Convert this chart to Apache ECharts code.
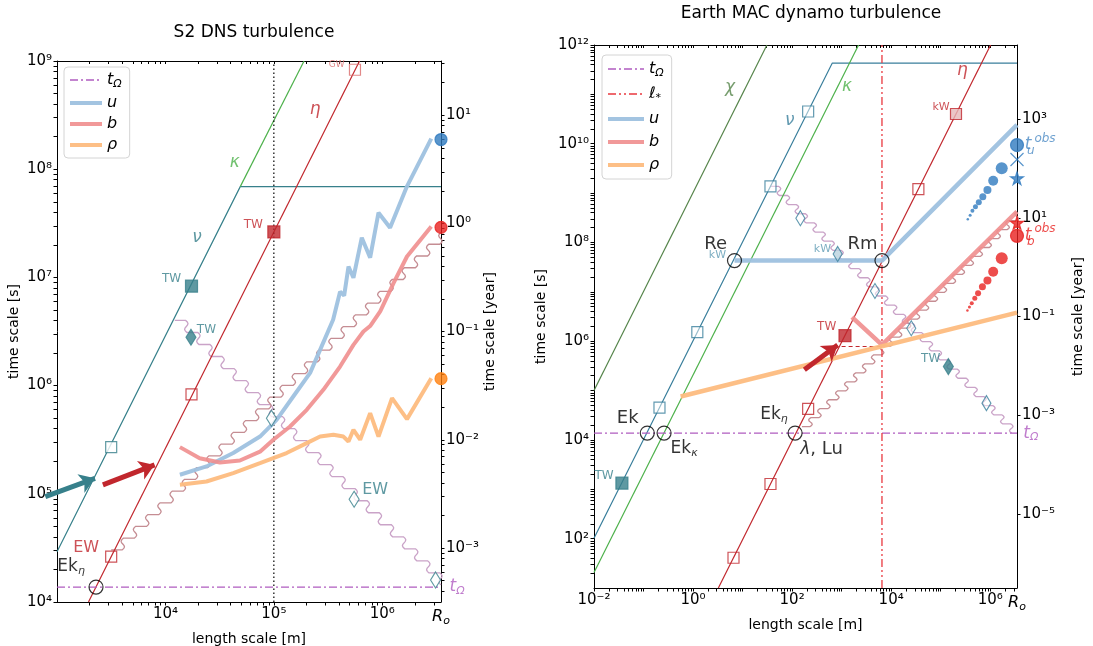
<!DOCTYPE html>
<html>
<head>
<meta charset="utf-8">
<script src="https://cdn.jsdelivr.net/npm/echarts@6/dist/echarts.min.js"></script>
<style>
  html, body { margin: 0; padding: 0; background: #fff; }
  #chart { width: 1093px; height: 646px; }
</style>
</head>
<body>
<div id="chart"></div>
<script>
var R_O = 3.48e6;        // core radius [m]
var T_OMEGA = 1.375e4;   // rotation time [s]
var YEAR = 3.156e7;

// ---------- tick values ----------
var dnsXTicks = [1e4, 1e5, 1e6];
var dnsYTicks = [1e4, 1e5, 1e6, 1e7, 1e8, 1e9];
var dnsYearTicks = [1e-3, 1e-2, 1e-1, 1, 10];
var earthXTicks = [1e-2, 1, 1e2, 1e4, 1e6];
var earthYTicks = [1e2, 1e4, 1e6, 1e8, 1e10, 1e12];
var earthYearTicks = [1e-5, 1e-3, 1e-1, 10, 1e3];

// ---------- S2 DNS turbulence ----------
var dnsNu = [[1e3, 2.92e4], [4.9e4, 6.9e7], [R_O, 6.9e7]];
var dnsKappa = [[4.9e4, 6.9e7], [1.9e5, 1e9]];
var dnsEta = [[1.95e3, 1e4], [6.17e5, 1e9]];
var dnsTOmega = [[1e3, T_OMEGA], [R_O, T_OMEGA]];
var dnsLstar = [[1e5, 1e4], [1e5, 1e9]];
var dnsU = [[1.36e4, 1.5e5], [2.39e4, 1.79e5], [4.22e4, 2.38e5], [7.45e4, 3.38e5], [1.06e5, 4.83e5],
  [1.51e5, 7.93e5], [2.16e5, 1.31e6], [2.67e5, 2.14e6], [3.52e5, 4.06e6], [4.08e5, 7.38e6],
  [4.45e5, 6.78e6], [4.88e5, 1.26e7], [5.42e5, 9.93e6], [6.47e5, 2.33e7], [7.73e5, 1.52e7],
  [9.23e5, 3.96e7], [1.18e6, 2.88e7], [1.69e6, 6.95e7], [2.83e6, 1.92e8]];
var dnsB = [[1.36e4, 2.7e5], [2.07e4, 2.13e5], [3.18e4, 1.95e5], [4.86e4, 2.03e5], [7.45e4, 2.45e5],
  [9.89e4, 3.16e5], [1.41e5, 4.19e5], [2.01e5, 5.97e5], [2.86e5, 9.14e5], [4.08e5, 1.5e6],
  [5.42e5, 2.38e6], [6.7e5, 3.16e6], [7.73e5, 3.55e6], [9.57e5, 4.85e6], [1.27e6, 8.87e6],
  [1.69e6, 1.56e7], [2.83e6, 2.96e7]];
var dnsRho = [[1.36e4, 1.21e5], [2.39e4, 1.3e5], [4.22e4, 1.55e5], [7.45e4, 1.92e5], [1.31e5, 2.38e5],
  [2.01e5, 2.94e5], [2.67e5, 3.38e5], [3.54e5, 3.51e5], [4.38e5, 3.38e5], [4.88e5, 3.04e5],
  [5.42e5, 3.9e5], [6.25e5, 3.16e5], [7.73e5, 5.57e5], [9.23e5, 3.38e5], [1.23e6, 7.66e5],
  [1.69e6, 4.9e5], [2.83e6, 1.17e6]];
var dnsNuOpen = [[3.16e3, 2.7e5]];
var dnsNuTW = [[1.74e4, 8.3e6]];
var dnsEtaOpen = [[3.16e3, 2.63e4], [1.74e4, 8.3e5]];
var dnsEtaGW = [[5.6e5, 8.3e8]];
var dnsEtaTW = [[1e5, 2.63e7]];
var dnsCircles = [[2.29e3, T_OMEGA]];
var dnsDiamondTW = [[1.72e4, 2.8e6]];
var dnsDiamonds = [[9.5e4, 5.0e5], [5.5e5, 8.9e4], [3.1e6, 1.6e4]];
var dnsEndU = [[R_O, 1.88e8]];
var dnsEndB = [[R_O, 2.9e7]];
var dnsEndRho = [[R_O, 1.16e6]];
var dnsStairDown = [[1.22e4, 4.0e6, R_O, 1.44e4]];
var dnsStairUp = [[3.16e3, 3.03e4, R_O, 2.6e7]];
var dnsArrowNu = [[7.8e2, 9.4e4], [2.24e3, 1.39e5]];
var dnsArrowEta = [[2.65e3, 1.21e5], [7.94e3, 1.85e5]];

// ---------- Earth MAC dynamo turbulence ----------
var earthChi = [[0.01, 1.0e5], [31, 1e12]];
var earthNu = [[0.01, 102], [649, 4.3e11], [R_O, 4.3e11]];
var earthKappa = [[0.01, 20.7], [2.2e3, 1e12]];
var earthEta = [[3.24, 10], [1.02e6, 1e12]];
var earthTOmega = [[0.01, T_OMEGA], [R_O, T_OMEGA]];
var earthLstar = [[6.53e3, 10], [6.53e3, 1e12]];
var earthU = [[6.87, 4.3e7], [6.53e3, 4.3e7], [R_O, 2.4e10]];
var earthB = [[1.62e3, 3.06e6], [6.53e3, 8.4e5], [R_O, 4.2e8]];
var earthRho = [[0.562, 7.57e4], [R_O, 3.8e6]];
var earthDash = [[1.0e3, 7.8e5], [6.53e3, 7.8e5]];
var earthNuOpen = [[0.21, 4.5e4], [1.22, 1.52e6], [36.6, 1.37e9], [211, 4.5e10]];
var earthNuTW = [[0.0366, 1.33e3]];
var earthEtaOpen = [[6.56, 41], [36.6, 1.28e3], [211, 4.24e4], [3.55e4, 1.2e9]];
var earthEtaKW = [[2.04e5, 4.0e10]];
var earthEtaTW = [[1.17e3, 1.29e6]];
var earthCircles = [[6.87, 4.3e7], [6.53e3, 4.3e7], [0.119, T_OMEGA], [0.26, T_OMEGA], [115, T_OMEGA]];
var earthDiamonds = [[147, 3.1e8], [4.71e3, 1.04e7], [2.55e4, 1.83e6], [8.4e5, 5.56e4]];
var earthDiamondKW = [[832, 5.85e7]];
var earthDiamondTW = [[1.43e5, 3.06e5]];
var earthStairDown = [[36.6, 1.37e9, 2.72e6, T_OMEGA]];
var earthStairUp = [[158, 1.86e4, R_O, 4.2e8]];
var earthArrow = [[177, 2.63e5], [832, 8.4e5]];
var obsU = [[1.71e6, 3.18e9], [1.15e6, 1.78e9], [8.8e5, 1.16e9], [7.1e5, 8.45e8], [5.89e5, 6.5e8],
  [5.04e5, 5.3e8], [4.38e5, 4.4e8], [3.94e5, 3.56e8], [3.53e5, 2.95e8]];
var obsB = [[1.71e6, 4.79e7], [1.15e6, 2.56e7], [8.8e5, 1.69e7], [6.97e5, 1.27e7], [5.7e5, 9.4e6],
  [4.89e5, 7.4e6], [4.25e5, 5.9e6], [3.81e5, 4.9e6], [3.47e5, 4.16e6]];
var obsDotSizes = [12, 10, 8, 7, 6, 5, 4, 3, 2.5];
var obsUEnd = [[R_O, 9.4e9]];
var obsUCross = [[R_O, 4.8e9]];
var obsUStar = [[R_O, 2.0e9]];
var obsBEnd = [[R_O, 1.36e8]];
var obsBStar = [[R_O, 2.5e8]];

var TEAL = '#37808b', TEAL2 = '#3a7f9c', GREEN = '#4db14b', DKGREEN = '#55844a', RED = '#c1272d',
  UCOL = '#9ec1df', BCOL = '#f08e8e', RCOL = '#fdbc7f', PURPLE = '#b05cc0', LSTAR = '#e9383f',
  BLUE = '#2f7bbf', DOTRED = '#e8201f';
var STAR = 'path://M50,0L61,35L98,35L68,57L79,91L50,70L21,91L32,57L2,35L39,35Z';

var SUP = {'0': '⁰', '1': '¹', '2': '²', '3': '³', '4': '⁴', '5': '⁵', '6': '⁶', '7': '⁷', '8': '⁸', '9': '⁹', '-': '⁻'};
function powLabel(v) {
    if (Math.abs(v / R_O - 1) < 1e-3) return '{it|R}{sub|o}';
    var e = Math.round(Math.log10(v));
    return '10' + String(e).split('').map(function (c) { return SUP[c]; }).join('');
}

// log minor ticks k*10^e inside (lo, hi), skipping the majors
function minors(lo, hi, subs, majors) {
    var out = [];
    for (var e = Math.floor(Math.log10(lo)); e <= Math.ceil(Math.log10(hi)); e++) {
        subs.forEach(function (k) {
            var v = k * Math.pow(10, e);
            var isMajor = majors.some(function (m) { return Math.abs(v / m - 1) < 1e-6; });
            if (v > lo * 1.0001 && v < hi * 0.9999 && !isMajor) out.push(v);
        });
    }
    return out;
}
var SUBS = [2, 3, 4, 5, 6, 7, 8, 9];
var SUBS1 = [1, 2, 3, 4, 5, 6, 7, 8, 9];

var rich = {
    it: {fontStyle: 'italic', fontSize: 16},
    g: {fontStyle: 'italic', fontSize: 17},
    sub: {fontSize: 11, fontStyle: 'italic', padding: [9, 0, 0, 0]},
    sup: {fontSize: 12, fontStyle: 'italic'},
    n: {fontSize: 17}
};

function axis(grid, pos, min, max, ticks, labels, name, gap) {
    var vertical = pos === 'left' || pos === 'right';
    return {
        gridIndex: grid, type: 'log', logBase: 10, min: min, max: max, position: pos,
        name: name, nameLocation: 'middle', nameGap: gap, nameRotate: vertical ? 90 : 0,
        nameTextStyle: {fontSize: 14, color: '#000'},
        axisLine: {show: true, onZero: false, lineStyle: {color: '#000', width: 1}},
        axisTick: {show: true, length: 3.5, customValues: ticks, lineStyle: {color: '#000'}},
        axisLabel: {show: true, color: '#000', fontSize: 15, margin: 5, formatter: powLabel,
            customValues: labels, rich: rich},
        splitLine: {show: false}
    };
}

// top spine: line plus inward ticks, no labels
function topAxis(grid, min, max, ticks) {
    return {
        gridIndex: grid, type: 'log', logBase: 10, min: min, max: max, position: 'top',
        axisLine: {show: true, onZero: false, lineStyle: {color: '#000', width: 1}},
        axisTick: {show: true, inside: true, length: 3, customValues: ticks, lineStyle: {color: '#000'}},
        axisLabel: {show: true, formatter: function () { return ''; }},
        splitLine: {show: false}
    };
}

function line(name, data, xi, yi, color, width, type, z, opacity) {
    return {
        name: name, type: 'line', xAxisIndex: xi, yAxisIndex: yi, data: data, symbol: 'none', silent: true,
        lineStyle: {color: color, width: width, type: type || 'solid', opacity: opacity || 1},
        itemStyle: {color: color}, z: z || 2
    };
}

function marks(data, xi, yi, symbol, size, fill, stroke, z) {
    return {
        type: 'scatter', xAxisIndex: xi, yAxisIndex: yi, data: data, symbol: symbol, symbolSize: size,
        clip: false, silent: true, z: z || 5,
        itemStyle: {color: fill, borderColor: stroke, borderWidth: 1.2}
    };
}

function notes(items, xi, yi) {
    return {
        type: 'scatter', xAxisIndex: xi, yAxisIndex: yi, symbolSize: 1, clip: false, silent: true, z: 8,
        itemStyle: {color: 'rgba(0,0,0,0)'},
        data: items.map(function (d) {
            return {value: [d[0], d[1]], label: {show: true, position: 'inside', formatter: d[2], color: d[3],
                fontSize: d[4], rich: rich}};
        })
    };
}

function arrow(data, xi, yi, color) {
    return {
        type: 'lines', coordinateSystem: 'cartesian2d', xAxisIndex: xi, yAxisIndex: yi, clip: false, silent: true,
        symbol: ['none', 'arrow'], symbolSize: 15, z: 4,
        lineStyle: {color: color, width: 5, opacity: 1},
        data: [{coords: data}]
    };
}

// staircase cascade drawn between two end points
function stairs(step, color) {
    return function (params, api) {
        var a = api.coord([api.value(0), api.value(1)]);
        var b = api.coord([api.value(2), api.value(3)]);
        var n = Math.max(1, Math.round(Math.abs(b[0] - a[0]) / step));
        var dx = (b[0] - a[0]) / n, dy = (b[1] - a[1]) / n;
        var pts = [[a[0], a[1]]];
        for (var i = 0; i < n; i++) {
            var x = a[0] + dx * i, y = a[1] + dy * i;
            pts.push([x + dx * 0.9, y]);
            for (var k = 1; k <= 8; k++) {
                var t = k / 8;
                pts.push([x + dx * (0.9 + 0.1 * t) + 2 * Math.sin(2 * Math.PI * t), y + dy * t]);
            }
        }
        return {type: 'polyline', shape: {points: pts}, style: {stroke: color, lineWidth: 1.3, fill: null}};
    };
}

function stairSeries(data, xi, yi, step, color) {
    return {type: 'custom', xAxisIndex: xi, yAxisIndex: yi, data: data, encode: {x: [0, 2], y: [1, 3]},
        renderItem: stairs(step, color), silent: true, z: 2};
}

function legName(name) {
    if (name === 't_Ω') return '{it|t}{sub|Ω}';
    if (name === 'ℓ*') return '{it|ℓ}{sub|*}';
    return '{it|' + name + '}';
}

var chart = echarts.init(document.getElementById('chart'));

var dnsYMin = 1e4 / YEAR, dnsYMax = 1e9 / YEAR, eYMin = 10 / YEAR, eYMax = 1e12 / YEAR;
var dnsXAll = dnsXTicks.concat(minors(1e3, R_O, SUBS, dnsXTicks));
var dnsYAll = dnsYTicks.concat(minors(1e4, 1e9, SUBS, dnsYTicks));
var dnsYearAll = dnsYearTicks.concat(minors(dnsYMin, dnsYMax, SUBS, dnsYearTicks));
var earthXAll = earthXTicks.concat(minors(0.01, R_O, SUBS1, earthXTicks));
var earthYAll = earthYTicks.concat(minors(10, 1e12, SUBS1, earthYTicks));

var option = {
    animation: false,
    backgroundColor: '#fff',
    textStyle: {fontFamily: 'DejaVu Sans'},
    title: [
        {text: 'S2 DNS turbulence', left: 249, top: 19, textAlign: 'center',
            textStyle: {fontSize: 17, fontWeight: 'normal', color: '#000'}},
        {text: 'Earth MAC dynamo turbulence', left: 806, top: 0, textAlign: 'center',
            textStyle: {fontSize: 17, fontWeight: 'normal', color: '#000'}}
    ],
    grid: [
        {left: 57, right: 652, top: 61, bottom: 44, outerBoundsMode: 'none'},
        {left: 594, right: 76, top: 45, bottom: 58, outerBoundsMode: 'none'}
    ],
    legend: [
        {data: ['t_Ω', 'u', 'b', 'ρ'], orient: 'vertical', left: 64, top: 67, itemWidth: 32, itemHeight: 12,
            itemGap: 5, padding: [5, 8, 5, 4], borderColor: '#d4d4d4', borderWidth: 1, borderRadius: 4,
            backgroundColor: '#fff', formatter: legName, selectedMode: false,
            itemStyle: {opacity: 0}, lineStyle: {width: 'inherit'},
            textStyle: {fontSize: 15, color: '#000', rich: rich}},
        {data: ['t_Ω', 'ℓ*', 'u', 'b', 'ρ'], orient: 'vertical', left: 602, top: 55, itemWidth: 36, itemHeight: 12,
            itemGap: 7, padding: [6, 8, 6, 4], borderColor: '#d4d4d4', borderWidth: 1, borderRadius: 4,
            backgroundColor: '#fff', formatter: legName, selectedMode: false,
            itemStyle: {opacity: 0}, lineStyle: {width: 'inherit'},
            textStyle: {fontSize: 16, color: '#000', rich: rich}}
    ],
    xAxis: [
        axis(0, 'bottom', 1e3, R_O, dnsXAll, dnsXTicks.concat([R_O * 0.99999]), 'length scale [m]', 24),
        axis(1, 'bottom', 0.01, R_O, earthXAll, earthXTicks.concat([R_O * 0.99999]), 'length scale [m]', 26),
        topAxis(0, 1e3, R_O, dnsXAll),
        topAxis(1, 0.01, R_O, earthXAll)
    ],
    yAxis: [
        axis(0, 'left', 1e4, 1e9, dnsYAll, dnsYTicks, 'time scale [s]', 36),
        axis(0, 'right', dnsYMin, dnsYMax, dnsYearAll, dnsYearTicks, 'time scale [year]', 42),
        axis(1, 'left', 10, 1e12, earthYAll, earthYTicks, 'time scale [s]', 46),
        axis(1, 'right', eYMin, eYMax, earthYearTicks, earthYearTicks, 'time scale [year]', 54)
    ],
    series: [
        // ---- left panel ----
        line('t_Ω', dnsTOmega, 0, 0, PURPLE, 1.3, [8, 3, 2, 3], 3),
        line('u', dnsU, 0, 0, UCOL, 4, 'solid', 3, 0.95),
        line('b', dnsB, 0, 0, BCOL, 4, 'solid', 3, 0.9),
        line('ρ', dnsRho, 0, 0, RCOL, 4, 'solid', 3, 0.95),
        line('dns_nu', dnsNu, 0, 0, TEAL, 1.2),
        line('dns_kappa', dnsKappa, 0, 0, GREEN, 1.2),
        line('dns_eta', dnsEta, 0, 0, RED, 1.2),
        line('dns_l', dnsLstar, 0, 0, '#000', 1.2, [1.5, 2.5]),
        stairSeries(dnsStairDown, 0, 0, 12, '#caa3c8'),
        stairSeries(dnsStairUp, 0, 0, 12, '#c58d93'),
        arrow(dnsArrowNu, 0, 0, TEAL),
        arrow(dnsArrowEta, 0, 0, RED),
        marks(dnsNuOpen, 0, 0, 'rect', 11, '#fff', TEAL),
        marks(dnsNuTW, 0, 0, 'rect', 12, TEAL, TEAL),
        marks(dnsEtaOpen, 0, 0, 'rect', 11, 'rgba(0,0,0,0)', RED),
        marks(dnsEtaGW, 0, 0, 'rect', 11, 'rgba(0,0,0,0)', '#d96a6a'),
        marks(dnsEtaTW, 0, 0, 'rect', 12, RED, RED),
        marks(dnsCircles, 0, 0, 'circle', 14, 'rgba(0,0,0,0)', '#000'),
        marks(dnsDiamondTW, 0, 0, 'diamond', [10, 16], TEAL, TEAL),
        marks(dnsDiamonds, 0, 0, 'diamond', [10, 16], '#fff', TEAL),
        marks(dnsEndU, 0, 0, 'circle', 12, BLUE, BLUE),
        marks(dnsEndB, 0, 0, 'circle', 12, DOTRED, DOTRED),
        marks(dnsEndRho, 0, 0, 'circle', 12, '#ff7f0e', '#ff7f0e'),
        notes([
            [1.95e4, 2.33e7, '{g|ν}', TEAL, 17],
            [4.37e4, 1.15e8, '{g|κ}', GREEN, 17],
            [2.4e5, 3.56e8, '{g|η}', RED, 17],
            [1.14e4, 9.7e6, 'TW', TEAL, 12],
            [6.46e4, 3.08e7, 'TW', RED, 12],
            [3.8e5, 9.3e8, 'GW', '#d96a6a', 9],
            [2.39e4, 3.28e6, 'TW', TEAL, 12],
            [8.6e5, 1.09e5, 'EW', TEAL, 16],
            [1.86e3, 3.14e4, 'EW', RED, 16],
            [1.35e3, 2.12e4, '{n|Ek}{sub|η}', '#000', 16],
            [4.9e6, 1.39e4, '{g|t}{sub|Ω}', PURPLE, 15]
        ], 0, 0),

        // ---- right panel ----
        line('t_Ω', earthTOmega, 1, 2, PURPLE, 1.3, [8, 3, 2, 3], 3),
        line('ℓ*', earthLstar, 1, 2, LSTAR, 1.3, [8, 3, 2, 3, 2, 3], 3),
        line('u', earthU, 1, 2, UCOL, 4.5, 'solid', 3, 0.95),
        line('b', earthB, 1, 2, BCOL, 4.5, 'solid', 3, 0.9),
        line('ρ', earthRho, 1, 2, RCOL, 4.5, 'solid', 3, 0.95),
        line('earth_chi', earthChi, 1, 2, DKGREEN, 1.2),
        line('earth_nu', earthNu, 1, 2, TEAL2, 1.2),
        line('earth_kappa', earthKappa, 1, 2, GREEN, 1.2),
        line('earth_eta', earthEta, 1, 2, RED, 1.2),
        line('earth_dash', earthDash, 1, 2, RED, 1.2, [4, 3]),
        stairSeries(earthStairDown, 1, 2, 9, '#caa3c8'),
        stairSeries(earthStairUp, 1, 2, 9, '#c58d93'),
        arrow(earthArrow, 1, 2, RED),
        marks(earthNuOpen, 1, 2, 'rect', 11, 'rgba(255,255,255,0.6)', TEAL2),
        marks(earthNuTW, 1, 2, 'rect', 12, TEAL, TEAL),
        marks(earthEtaOpen, 1, 2, 'rect', 11, 'rgba(0,0,0,0)', RED),
        marks(earthEtaKW, 1, 2, 'rect', 11, '#e6b9b9', RED),
        marks(earthEtaTW, 1, 2, 'rect', 12, RED, RED),
        marks(earthCircles, 1, 2, 'circle', 14, 'rgba(0,0,0,0)', '#000'),
        marks(earthDiamonds, 1, 2, 'diamond', [9, 15], 'rgba(255,255,255,0.6)', TEAL2),
        marks(earthDiamondKW, 1, 2, 'diamond', [9, 15], '#b9d2df', TEAL2),
        marks(earthDiamondTW, 1, 2, 'diamond', [10, 16], TEAL, TEAL),
        {type: 'scatter', xAxisIndex: 1, yAxisIndex: 2, data: obsU, symbol: 'circle', silent: true, z: 5,
            symbolSize: function (v, p) { return obsDotSizes[p.dataIndex]; }, itemStyle: {color: BLUE}},
        {type: 'scatter', xAxisIndex: 1, yAxisIndex: 2, data: obsB, symbol: 'circle', silent: true, z: 5,
            symbolSize: function (v, p) { return obsDotSizes[p.dataIndex]; }, itemStyle: {color: DOTRED}},
        marks(obsUEnd, 1, 2, 'circle', 13, BLUE, BLUE),
        marks(obsUCross, 1, 2, 'path://M0,0L10,10M10,0L0,10', 13, 'none', BLUE),
        marks(obsUStar, 1, 2, STAR, 13, BLUE, BLUE),
        marks(obsBEnd, 1, 2, 'circle', 13, DOTRED, DOTRED),
        marks(obsBStar, 1, 2, STAR, 13, DOTRED, DOTRED),
        notes([
            [5.57, 1.38e11, '{g|χ}', DKGREEN, 17],
            [90, 2.9e10, '{g|ν}', TEAL2, 17],
            [1.28e3, 1.43e11, '{g|κ}', GREEN, 17],
            [2.75e5, 3.1e11, '{g|η}', RED, 17],
            [1.02e5, 5.6e10, 'kW', RED, 11],
            [2.85, 9.3e7, 'Re', '#000', 18],
            [3.1, 5.6e7, 'kW', '#5d9ab3', 11],
            [409, 7.3e7, 'kW', '#5d9ab3', 11],
            [2.63e3, 9.3e7, 'Rm', '#000', 18],
            [499, 1.92e6, 'TW', RED, 12],
            [6.3e4, 4.3e5, 'TW', TEAL, 12],
            [0.016, 1.88e3, 'TW', TEAL, 12],
            [0.048, 2.76e4, 'Ek', '#000', 18],
            [0.66, 6.8e3, '{n|Ek}{sub|κ}', '#000', 18],
            [43, 3.2e4, '{n|Ek}{sub|η}', '#000', 18],
            [394, 6.5e3, '{g|λ}, Lu', '#000', 18],
            [6.6e6, T_OMEGA, '{g|t}{sub|Ω}', PURPLE, 15],
            [5.8e6, 9.4e9, '{g|t}', '#4a8ac4', 17],
            [1.28e7, 1.23e10, '{sup|obs}', '#4a8ac4', 12],
            [6.6e6, 7.3e9, '{sup|u}', '#4a8ac4', 12],
            [5.8e6, 1.36e8, '{g|t}', DOTRED, 17],
            [1.28e7, 1.88e8, '{sup|obs}', DOTRED, 12],
            [6.6e6, 1.02e8, '{sup|b}', DOTRED, 12]
        ], 1, 2)
    ]
};

chart.setOption(option);

window.addEventListener('resize', function () {
    chart.resize();
});
</script>
</body>
</html>
